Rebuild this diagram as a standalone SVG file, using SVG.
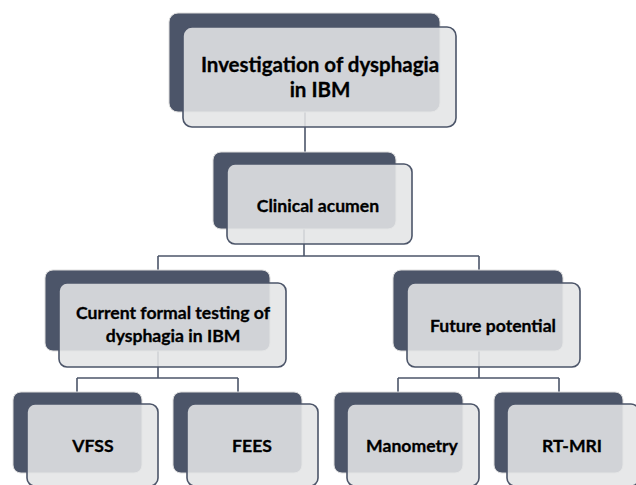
<svg xmlns="http://www.w3.org/2000/svg" width="636" height="485" viewBox="0 0 636 485">
<style>
.back{fill:#4c5569;stroke:#dcdcdc;stroke-width:1}
.front{fill:#e4e5e6;fill-opacity:0.88;stroke:#4c5569;stroke-width:1.6}
.lbl{font-family:Lato,"Open Sans","Liberation Sans",sans-serif;font-weight:bold;font-size:17.6px;fill:#000;stroke:#000;stroke-width:0.3;text-anchor:middle}
.big{font-size:20.5px}
.con{fill:none;stroke:#4c5569;stroke-width:1.6}
</style>
<rect width="636" height="485" fill="#ffffff"/>
<g id="connectors">
<path class="con" d="M305 112 V152"/>
<path class="con" d="M304 229 V256 M158 256 H479 M158 256 V270 M479 256 V270"/>
<path class="con" d="M158 351 V378 M77 378 H238 M77 378 V392 M238 378 V392"/>
<path class="con" d="M479 351 V378 M398 378 H559 M398 378 V392 M559 378 V392"/>
</g>
<g id="n-root">
<rect class="back" x="169" y="13" width="271" height="99" rx="9"/>
<rect class="front" x="183" y="27" width="273" height="100" rx="9"/>
<text class="lbl big" x="320" y="72">Investigation of dysphagia</text>
<text class="lbl big" x="320" y="97">in IBM</text>
</g>
<g id="n-clinical">
<rect class="back" x="213" y="152" width="183" height="77" rx="8"/>
<rect class="front" x="227" y="164" width="185" height="80" rx="8"/>
<text class="lbl" x="318" y="212">Clinical acumen</text>
</g>
<g id="n-current">
<rect class="back" x="45" y="270" width="225" height="81" rx="8"/>
<rect class="front" x="59" y="283" width="227" height="84" rx="8"/>
<text class="lbl" x="173" y="319">Current formal testing of</text>
<text class="lbl" x="173" y="342">dysphagia in IBM</text>
</g>
<g id="n-future">
<rect class="back" x="393" y="270" width="170" height="81" rx="8"/>
<rect class="front" x="407" y="283" width="173" height="84" rx="8"/>
<text class="lbl" x="493" y="332">Future potential</text>
</g>
<g id="n-vfss">
<rect class="back" x="13" y="392" width="129" height="81" rx="8"/>
<rect class="front" x="27" y="404" width="131" height="82" rx="8"/>
<text class="lbl" x="93" y="452">VFSS</text>
</g>
<g id="n-fees">
<rect class="back" x="173" y="392" width="129" height="81" rx="8"/>
<rect class="front" x="187" y="404" width="131" height="82" rx="8"/>
<text class="lbl" x="252" y="452">FEES</text>
</g>
<g id="n-manometry">
<rect class="back" x="334" y="392" width="129" height="81" rx="8"/>
<rect class="front" x="347" y="404" width="132" height="82" rx="8"/>
<text class="lbl" x="412" y="452">Manometry</text>
</g>
<g id="n-rtmri">
<rect class="back" x="494" y="392" width="129" height="81" rx="8"/>
<rect class="front" x="507" y="404" width="132" height="82" rx="8"/>
<text class="lbl" x="572" y="452">RT-MRI</text>
</g>
</svg>
